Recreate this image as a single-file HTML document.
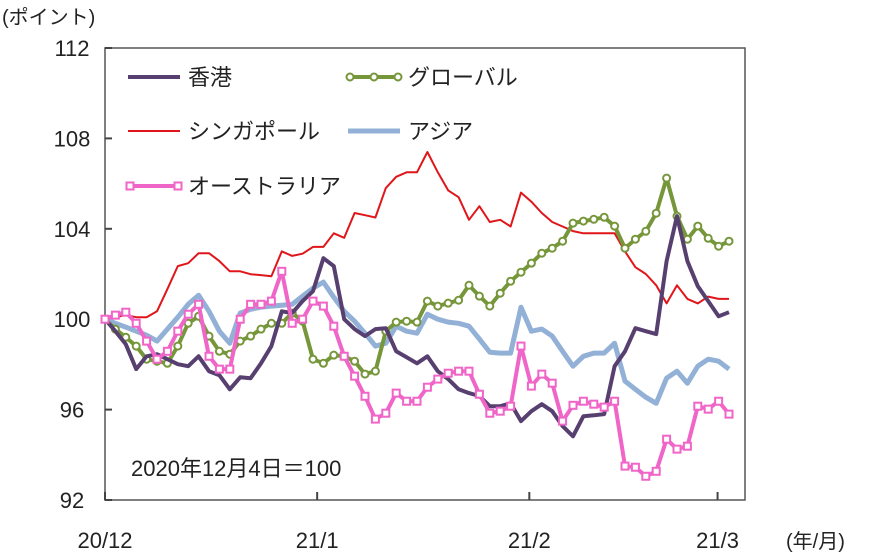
<!DOCTYPE html>
<html><head><meta charset="utf-8"><style>
body{margin:0;background:#fff}
svg text{font-family:"Liberation Sans","Noto Sans CJK JP",sans-serif;fill:#222}
</style></head><body>
<svg id="c" width="874" height="554" viewBox="0 0 874 554"></svg>
<script>
const hk=[100,99.47,98.89,97.79,98.36,98.45,98.23,98.01,97.92,98.36,97.7,97.52,96.9,97.43,97.39,98.05,98.81,100.35,100.27,100.8,101.24,102.7,102.35,100,99.56,99.25,99.56,99.6,98.58,98.32,98.05,98.36,97.7,97.35,96.9,96.73,96.6,96.15,96.15,96.28,95.49,95.93,96.24,95.93,95.27,94.82,95.71,95.75,95.8,97.92,98.58,99.6,99.47,99.34,102.57,104.56,102.57,101.46,100.8,100.13,100.31];
const glob=[100,99.56,99.2,98.81,98.23,98.14,98.05,98.81,99.82,100.13,99.25,98.58,98.45,99.03,99.25,99.56,99.82,99.82,100.27,99.91,98.23,98.05,98.41,98.36,98.14,97.57,97.7,99.47,99.87,99.91,99.87,100.8,100.58,100.71,100.84,101.5,101.02,100.58,101.15,101.68,102.08,102.48,102.92,103.14,103.45,104.25,104.34,104.42,104.51,104.12,103.14,103.54,103.89,104.69,106.24,104.56,103.54,104.12,103.58,103.23,103.45];
const sg=[100,100.09,100.18,100.09,100.09,100.35,101.33,102.35,102.48,102.92,102.92,102.57,102.12,102.12,101.99,101.95,101.9,103.0,102.8,102.9,103.2,103.2,103.8,103.6,104.7,104.6,104.5,105.8,106.3,106.5,106.5,107.4,106.5,105.7,105.4,104.4,105.0,104.3,104.4,104.1,105.6,105.2,104.7,104.3,104.1,103.9,103.8,103.8,103.8,103.8,103.0,102.3,102.0,101.5,100.7,101.5,100.9,100.7,101.0,100.9,100.9];
const asia=[100,99.82,99.65,99.47,99.29,99.03,99.56,100.09,100.66,101.06,100.35,99.47,98.94,100.27,100.44,100.53,100.58,100.62,100.66,101.02,101.37,101.64,100.97,100.35,99.91,99.38,98.81,98.94,99.69,99.47,99.38,100.22,100,99.87,99.82,99.69,99.12,98.54,98.5,98.5,100.53,99.47,99.56,99.25,98.58,97.92,98.36,98.5,98.5,98.94,97.26,96.9,96.55,96.28,97.39,97.7,97.17,97.92,98.23,98.14,97.79];
const aus=[100,100.18,100.31,99.82,99.03,98.23,98.58,99.47,100.22,100.66,98.36,97.79,97.79,100,100.66,100.66,100.8,102.12,99.82,100,100.8,100.58,99.69,98.36,97.48,96.59,95.58,95.84,96.73,96.37,96.37,96.99,97.35,97.61,97.7,97.7,96.68,95.84,95.93,96.15,98.81,97.04,97.57,97.17,95.49,96.19,96.37,96.24,96.11,96.37,93.5,93.45,93.05,93.27,94.69,94.25,94.38,96.15,96.02,96.37,95.8];
const yTicks=[92,96,100,104,108,112];
const xLabels=["20/12","21/1","21/2","21/3"];
const xLabelIdx=[0,20.4,40.8,58.9];

const svg=document.getElementById('c');const NS='http://www.w3.org/2000/svg';
const L=105,R=745,T=48,B=500,N=60,XEND=729;
const X=i=>L+i*(XEND-L)/N;
const Y=v=>B-(v-92)/20*(B-T);
function mk(tag,a,parent){const e=document.createElementNS(NS,tag);for(const k in a)e.setAttribute(k,a[k]);(parent||svg).appendChild(e);return e;}
let frame=mk('rect',{x:L,y:T,width:R-L,height:B-T,fill:'none',stroke:'#555','stroke-width':1.5});


yTicks.forEach(v=>{
 let t=mk('line',{x1:L,x2:L+7,y1:Y(v),y2:Y(v),stroke:'#444','stroke-width':2});
 
 
 let tx=mk('text',{x:L-33,y:Y(v)+8,'font-size':22,'text-anchor':'middle'});tx.textContent=v;
 
 
});
xLabels.forEach((s,k)=>{
 const x=X(xLabelIdx[k]);
 let t=mk('line',{x1:x,x2:x,y1:B,y2:B-8,stroke:'#444','stroke-width':2});
 
 
 let tx=mk('text',{x:x,y:548,'font-size':22,'text-anchor':'middle'});tx.textContent=s;
 
 
});
function pts(a){return a.map((v,i)=>X(i).toFixed(1)+','+Y(v).toFixed(1)).join(' ');}
function series(a,color,w,name){let p=mk('polyline',{points:pts(a),fill:'none',stroke:color,'stroke-width':w,'stroke-linejoin':'round'});
 
 return p;}
series(sg,'#e0161a',2,'singapore-line');
series(asia,'#93b1d6',5,'asia-line');
series(glob,'#76963a',4,'global-line');
glob.forEach((v,i)=>{let c=mk('circle',{cx:X(i),cy:Y(v),r:3.5,fill:'#fff',stroke:'#76963a','stroke-width':2});
 
 });
series(hk,'#574070',4,'hongkong-line');
series(aus,'#f065c8',4,'australia-line');
aus.forEach((v,i)=>{let c=mk('rect',{x:X(i)-3.5,y:Y(v)-3.5,width:7,height:7,fill:'#fff',stroke:'#f065c8','stroke-width':2});
 
 });
// legend
function leg(x,y,color,w,label,marker,name){
 const g=mk('g',{});
 
 
 mk('line',{x1:x,x2:x+52,y1:y,y2:y,stroke:color,'stroke-width':w},g);
 if(marker==='c')[x+2,x+26,x+50].forEach(cx=>mk('circle',{cx:cx,cy:y,r:3.5,fill:'#fff',stroke:color,'stroke-width':2},g));
 if(marker==='s')[x+2,x+50].forEach(cx=>mk('rect',{x:cx-3.5,y:y-3.5,width:7,height:7,fill:'#fff',stroke:color,'stroke-width':2},g));
 const t=mk('text',{x:x+60,y:y+8,'font-size':22},g);t.textContent=label;
}
leg(128,77,'#574070',4,'香港','', 'legend-hongkong');
leg(348,77,'#76963a',4,'グローバル','c','legend-global');
leg(128,131,'#e0161a',2,'シンガポール','','legend-singapore');
leg(348,131,'#93b1d6',5,'アジア','','legend-asia');
leg(128,186,'#f065c8',4,'オーストラリア','s','legend-australia');
let a=mk('text',{x:131,y:476,'font-size':22});a.textContent='2020年12月4日＝100';


let u=mk('text',{x:2,y:24,'font-size':20});u.textContent='(ポイント)';


let u2=mk('text',{x:786,y:548,'font-size':20});u2.textContent='(年/月)';


</script>
</body></html>
